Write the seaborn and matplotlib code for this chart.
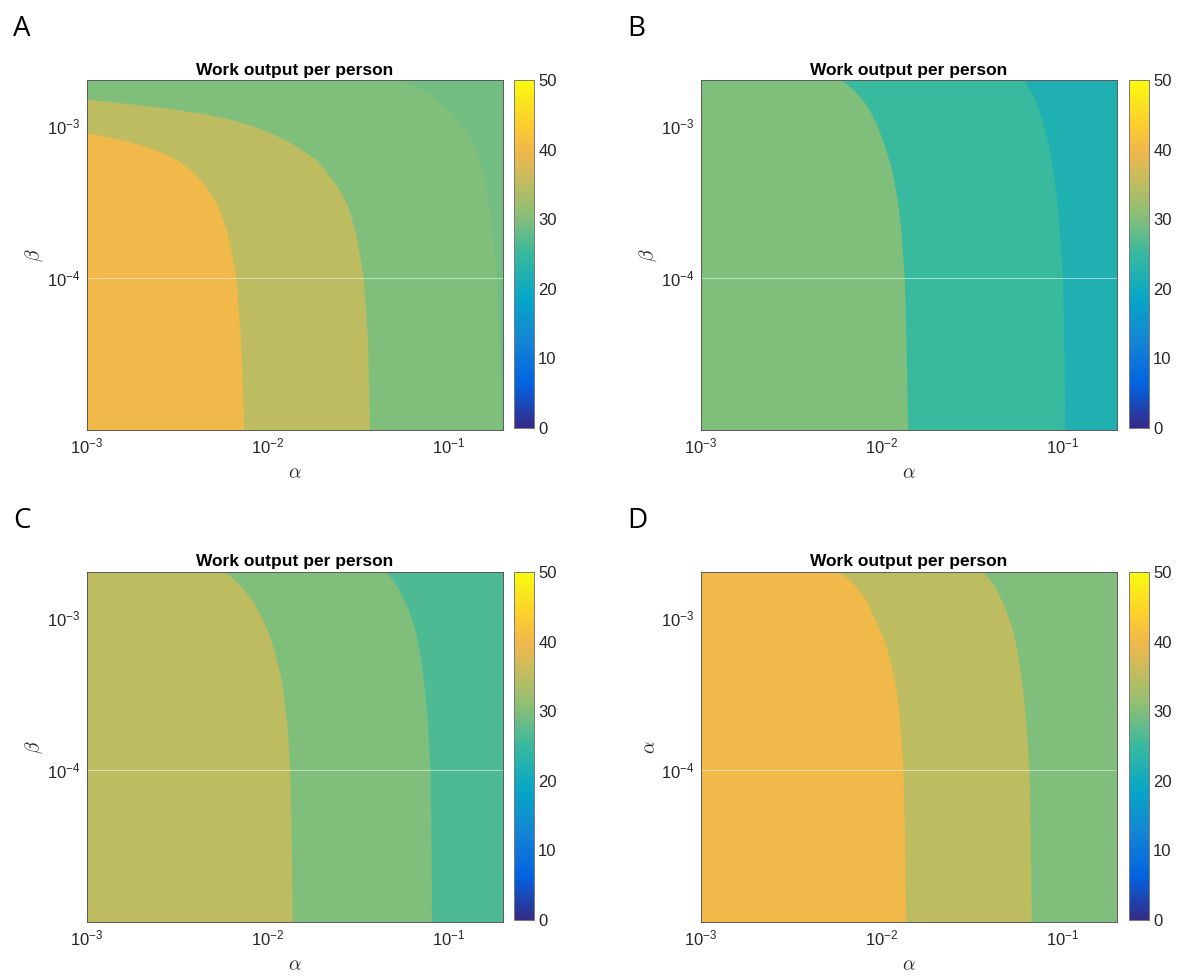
import matplotlib
matplotlib.use('Agg')
import matplotlib.pyplot as plt
import seaborn as sns
from matplotlib.colors import LinearSegmentedColormap, Normalize
from matplotlib.cm import ScalarMappable
from matplotlib.ticker import FixedLocator, LogLocator, NullFormatter, LogFormatterSciNotation

sns.set_theme(style='white')
plt.rcParams['font.family'] = ['Liberation Sans', 'DejaVu Sans']
plt.rcParams['mathtext.fontset'] = 'custom'
plt.rcParams['mathtext.rm'] = 'Liberation Sans'
plt.rcParams['mathtext.it'] = 'Liberation Sans:italic'
plt.rcParams['mathtext.bf'] = 'Liberation Sans:bold'

# ---- data ----
# beta samples (y axis) shared by every boundary
beta = [1e-5, 4e-5, 1e-4, 2e-4, 3e-4, 4e-4, 5e-4, 6e-4, 7e-4, 8e-4, 9e-4,
        1e-3, 1.1e-3, 1.2e-3, 1.3e-3, 1.4e-3, 1.5e-3, 1.6e-3, 1.8e-3, 2e-3]

# alpha position of each contour boundary at those beta values (1e-3 = left edge)
A_b40 = [7.37e-3, 7.06e-3, 6.68e-3, 5.97e-3, 5.27e-3, 4.55e-3, 3.85e-3, 3.13e-3, 2.35e-3, 1.64e-3,
         1e-3, 1e-3, 1e-3, 1e-3, 1e-3, 1e-3, 1e-3, 1e-3, 1e-3, 1e-3]
A_b35 = [0.0365, 0.0356, 0.0338, 0.0305, 0.0276, 0.0242, 0.0211, 0.0185, 0.0153, 0.01276,
         0.01034, 8.30e-3, 6.32e-3, 4.49e-3, 2.87e-3, 1.70e-3, 1e-3, 1e-3, 1e-3, 1e-3]
A_b30 = [0.1934, 0.190, 0.1835, 0.1754, 0.1675, 0.1618, 0.1545, 0.1481, 0.1402, 0.1338,
         0.1266, 0.1183, 0.1119, 0.1064, 0.0982, 0.0918, 0.0855, 0.0809, 0.0658, 0.0538]

B_b30 = [0.01390, 0.01361, 0.01333, 0.01278, 0.01230, 0.01181, 0.01142, 0.01092, 0.01051, 0.01012,
         9.74e-3, 9.44e-3, 9.07e-3, 8.75e-3, 8.45e-3, 8.12e-3, 7.75e-3, 7.40e-3, 6.72e-3, 5.97e-3]
B_b25 = [0.1029, 0.1016, 0.0999, 0.0962, 0.0934, 0.0908, 0.0886, 0.0863, 0.0845, 0.0824,
         0.0804, 0.0785, 0.0770, 0.0749, 0.0732, 0.0717, 0.0702, 0.0683, 0.0645, 0.0611]

C_b35 = [0.01367, 0.01344, 0.01322, 0.01276, 0.01225, 0.01181, 0.01130, 0.01088, 0.01043, 0.01004,
         9.66e-3, 9.24e-3, 8.88e-3, 8.56e-3, 8.23e-3, 7.82e-3, 7.45e-3, 7.12e-3, 6.45e-3, 5.77e-3]
C_b30 = [0.0805, 0.0798, 0.0788, 0.0765, 0.0743, 0.0724, 0.0706, 0.0689, 0.0671, 0.0657,
         0.0640, 0.0619, 0.0603, 0.0587, 0.0568, 0.0551, 0.0535, 0.0521, 0.0486, 0.0455]

D_b40 = [0.01355, 0.01333, 0.01310, 0.01262, 0.01215, 0.01171, 0.01120, 0.01079, 0.01030, 9.87e-3,
         9.46e-3, 9.07e-3, 8.75e-3, 8.46e-3, 8.19e-3, 7.83e-3, 7.50e-3, 7.18e-3, 6.59e-3, 5.72e-3]
D_b35 = [0.0671, 0.0663, 0.0652, 0.0627, 0.0608, 0.0591, 0.0575, 0.0561, 0.0545, 0.0533,
         0.0518, 0.0501, 0.0488, 0.0475, 0.0460, 0.0446, 0.0433, 0.0421, 0.0392, 0.0365]

# value of each band, left to right
A_levels = [40, 35, 30, 29]
B_levels = [30, 25, 22]
C_levels = [35, 30, 26.5]
D_levels = [40, 35, 30]

panels = [('A', [A_b40, A_b35, A_b30], A_levels, r'$\beta$'),
          ('B', [B_b30, B_b25], B_levels, r'$\beta$'),
          ('C', [C_b35, C_b30], C_levels, r'$\beta$'),
          ('D', [D_b40, D_b35], D_levels, r'$\alpha$')]

cbar_ticks = [0, 10, 20, 30, 40, 50]

# parula-like colormap
parula = LinearSegmentedColormap.from_list('parula', [
    (0.0, '#352a87'), (0.125, '#0363e1'), (0.25, '#1485d4'), (0.375, '#06a7c6'),
    (0.5, '#38b99e'), (0.625, '#92bf73'), (0.75, '#d9ba56'), (0.8, '#f1b84a'),
    (0.875, '#fcce2e'), (1.0, '#f9fb0e')])
norm = Normalize(0, 50)

XMIN, XMAX = 1e-3, 0.2
YMIN, YMAX = 1e-5, 2e-3

fig = plt.figure(figsize=(11.78, 9.8), dpi=100)

# axes / colorbar placement in figure fractions
lefts = [0.0739, 0.5951, 0.0739, 0.5951]
bottoms = [0.5612, 0.5612, 0.0592, 0.0592]
cb_lefts = [0.4363, 0.9584, 0.4363, 0.9584]

for i, (letter, bounds, levels, ylab) in enumerate(panels):
    ax = fig.add_axes([lefts[i], bottoms[i], 0.3531, 0.3571])
    edges = bounds + [[XMAX] * len(beta)]
    # paint from the right-most band inwards so bands overlap with no seams
    for k in range(len(levels) - 1, -1, -1):
        ax.fill_betweenx(beta, XMIN, edges[k], color=parula(norm(levels[k])),
                         linewidth=0, zorder=1)
    ax.axhline(1e-4, color='white', lw=0.6, alpha=0.6, zorder=2)

    ax.set_xscale('log')
    ax.set_yscale('log')
    ax.set_xlim(XMIN, XMAX)
    ax.set_ylim(YMIN, YMAX)
    ax.xaxis.set_major_locator(FixedLocator([1e-3, 1e-2, 1e-1]))
    ax.yaxis.set_major_locator(FixedLocator([1e-4, 1e-3]))
    ax.xaxis.set_major_formatter(LogFormatterSciNotation())
    ax.yaxis.set_major_formatter(LogFormatterSciNotation())
    ax.xaxis.set_minor_locator(LogLocator(subs=range(2, 10), numticks=20))
    ax.yaxis.set_minor_locator(LogLocator(subs=range(2, 10), numticks=20))
    ax.xaxis.set_minor_formatter(NullFormatter())
    ax.yaxis.set_minor_formatter(NullFormatter())
    ax.tick_params(which='both', direction='in', bottom=True, left=True, top=True, right=True,
                   color='#333333', labelsize=12, labelcolor='#262626')
    ax.tick_params(which='major', length=4.5, width=0.7, pad=5)
    ax.tick_params(which='minor', length=2.5, width=0.6)
    for s in ax.spines.values():
        s.set_color('#5a5a5a')
        s.set_linewidth(0.7)

    ax.set_title('Work output per person', fontweight='bold', fontsize=12.5, pad=4, color='black')
    ax.set_xlabel(r'$\alpha$', fontsize=14, math_fontfamily='cm', color='#262626', labelpad=6)
    ax.set_ylabel(ylab, fontsize=14, math_fontfamily='cm', color='#262626', labelpad=1)

    cax = fig.add_axes([cb_lefts[i], bottoms[i] + 0.002, 0.0170, 0.355])
    cb = fig.colorbar(ScalarMappable(norm=norm, cmap=parula), cax=cax, ticks=cbar_ticks)
    cb.outline.set_edgecolor('#7a7a7a')
    cb.outline.set_linewidth(0.7)
    cax.tick_params(direction='in', right=True, length=3, width=0.6, color='#333333',
                    labelsize=12, labelcolor='#262626', pad=3)

    fig.text(lefts[i] - 0.063, bottoms[i] + 0.4238, letter, fontsize=20, color='black',
             family=['Open Sans', 'DejaVu Sans'], va='top', ha='left')

fig.savefig('out.png', dpi=100)
